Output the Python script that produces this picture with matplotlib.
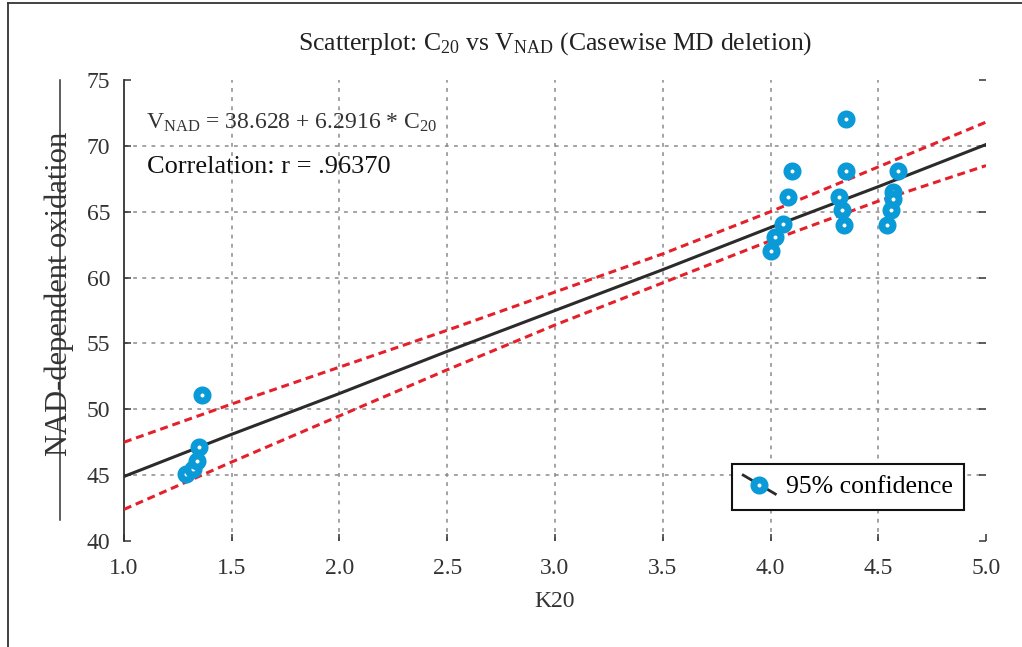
import matplotlib
matplotlib.use("Agg")
import matplotlib.pyplot as plt
from matplotlib.lines import Line2D
from matplotlib.legend_handler import HandlerBase

plt.rcParams['font.family'] = ['Liberation Serif', 'DejaVu Serif']
plt.rcParams['mathtext.fontset'] = 'custom'
plt.rcParams['mathtext.rm'] = 'Liberation Serif'
plt.rcParams['mathtext.it'] = 'Liberation Serif:italic'

# --- data ---
k20 = [1.29, 1.32, 1.34, 1.35, 1.36,
       4.00, 4.02, 4.06, 4.08, 4.10,
       4.32, 4.33, 4.34, 4.35, 4.35,
       4.54, 4.56, 4.57, 4.57, 4.59]
vnad = [45.1, 45.5, 46.1, 47.1, 51.1,
        62.0, 63.1, 64.1, 66.1, 68.1,
        66.1, 65.1, 64.0, 68.1, 72.0,
        64.0, 65.1, 66.5, 66.0, 68.1]

grid_x = [1.0, 1.5, 2.0, 2.5, 3.0, 3.5, 4.0, 4.5, 5.0]
fit_y = [44.9, 48.1, 51.2, 54.4, 57.5, 60.6, 63.8, 66.9, 70.1]
upper_y = [47.5, 50.4, 53.2, 56.0, 58.9, 61.8, 65.0, 68.4, 71.8]
lower_y = [42.4, 46.0, 49.5, 53.0, 56.4, 59.6, 62.8, 65.8, 68.5]

x_ticks = [1.0, 1.5, 2.0, 2.5, 3.0, 3.5, 4.0, 4.5, 5.0]
y_ticks = [40, 45, 50, 55, 60, 65, 70, 75]

blue = '#0a9ad8'
red = '#e5202b'
dark = '#2b2b2b'


class DiagHandler(HandlerBase):
    def create_artists(self, legend, orig, xd, yd, w, h, fontsize, trans):
        x0, y0 = -xd, -yd
        ln = Line2D([x0, x0 + w], [y0 + h * 1.0, y0 - h * 0.05],
                    color=dark, lw=2, transform=trans)
        mk = Line2D([x0 + w * 0.5], [y0 + h * 0.45], ls='none', marker='o',
                    ms=8, mfc='white', mec=blue, mew=5, transform=trans)
        return [ln, mk]


fig = plt.figure(figsize=(10.22, 6.47), dpi=100)
ax = fig.add_axes([0.1213, 0.1638, 0.8435, 0.7126])

ax.plot(grid_x, upper_y, color=red, lw=2.2, ls=(0, (2.6, 1.6)), zorder=3)
ax.plot(grid_x, lower_y, color=red, lw=2.2, ls=(0, (2.6, 1.6)), zorder=3)
ax.plot(grid_x, fit_y, color=dark, lw=2.2, zorder=4)
ax.plot(k20, vnad, ls='none', marker='o', ms=8, mfc='white', mec=blue,
        mew=5, zorder=5)

ax.set_xlim(1.0, 5.0)
ax.set_ylim(40, 75)
ax.set_xticks(x_ticks)
ax.set_xticklabels([f'{v:.1f}' for v in x_ticks])
ax.set_yticks(y_ticks)

for s in ['top', 'right', 'bottom']:
    ax.spines[s].set_visible(False)
ax.spines['left'].set_color('#333333')
ax.spines['left'].set_linewidth(1.3)

ax.tick_params(axis='both', direction='in', length=5, width=1.1,
               colors='#333333', labelsize=17)
ax.tick_params(axis='y', right=True, pad=10)
ax.tick_params(axis='x', pad=12)

for v in y_ticks[1:-1]:
    ax.axhline(v, color='#8a8a8a', lw=1.1, ls=(0, (2.5, 3.5)), zorder=1)
for v in x_ticks[1:-1]:
    ax.axvline(v, color='#8a8a8a', lw=1.1, ls=(0, (2.5, 3.5)), zorder=1)

ax.set_title(r'Scatterplot: C$_{20}$ vs V$_{\mathrm{NAD}}$ (Casewise MD deletion)',
             fontsize=18.5, color='#222222', pad=22)
ax.set_xlabel('K20', fontsize=17, color='#333333', labelpad=9)
ax.set_ylabel('NAD-dependent oxidation', fontsize=22, color='#333333')
ax.yaxis.set_label_coords(-0.058, 0.535)

ax.text(0.025, 0.908, r'V$_{\mathrm{NAD}}$ = 38.628 + 6.2916 * C$_{20}$',
        transform=ax.transAxes, fontsize=17, color='#333333', va='center')
ax.text(0.027, 0.812, 'Correlation: r = .96370', transform=ax.transAxes,
        fontsize=19, color='#111111', va='center')

handle = Line2D([], [], color=dark)
leg = ax.legend([handle], ['95% confidence'], handler_map={Line2D: DiagHandler()},
                loc='lower right', bbox_to_anchor=(0.9745, 0.068), fontsize=18.5,
                frameon=True, fancybox=False, framealpha=1, edgecolor='#111111',
                borderpad=0.45, handlelength=1.25, handletextpad=0.4,
                borderaxespad=0)
leg.get_frame().set_linewidth(1.5)

# frame lines around the figure and the rule beside the y label
fig.add_artist(Line2D([8 / 1022, 1], [1 - 3 / 647, 1 - 3 / 647],
                      color='#333333', lw=1.3, transform=fig.transFigure))
fig.add_artist(Line2D([8 / 1022, 8 / 1022], [0, 1 - 3 / 647],
                      color='#333333', lw=1.3, transform=fig.transFigure))
fig.add_artist(Line2D([60 / 1022, 60 / 1022], [1 - 80 / 647, 1 - 520 / 647],
                      color='#333333', lw=1.1, transform=fig.transFigure))

fig.savefig('out.png', dpi=100)
